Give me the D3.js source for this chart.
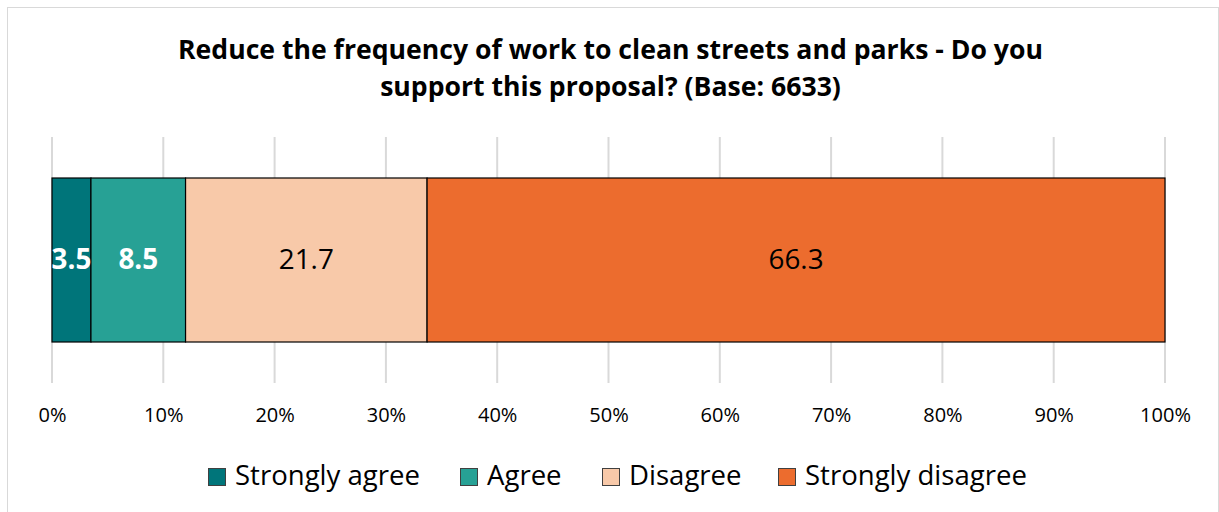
<!DOCTYPE html>
<html><head><meta charset="utf-8">
<script src="https://cdn.jsdelivr.net/npm/d3@7"></script>
<style>body{margin:0;background:#fff}svg{display:block}</style>
</head><body>
<svg id="c" width="1219" height="512"></svg>
<script>
const categories = ["Strongly agree","Agree","Disagree","Strongly disagree"];
const values = [3.5, 8.5, 21.7, 66.3];
const colors = ["#00757A","#27A195","#F8C9A9","#EC6C2E"];
const labelColors = ["#fff","#fff","#000","#000"];
const labelWeights = ["bold","bold","normal","normal"];
const ticks = [0,10,20,30,40,50,60,70,80,90,100];
const titleLines = ["Reduce the frequency of work to clean streets and parks - Do you","support this proposal? (Base: 6633)"];

const font = "'Open Sans', sans-serif";
const svg = d3.select("#c");

function fit(sel, target){ // scale font-size so text width matches target
  const n = sel.node(); const fs = parseFloat(sel.style("font-size"));
  const w = n.getComputedTextLength();
  sel.style("font-size", (fs*target/w).toFixed(2)+"px");
}

svg.append("rect").attr("x",7.5).attr("y",7.5).attr("width",1211).attr("height",510)
  .attr("fill","#fff").attr("stroke","#d9d9d9");

const tl = svg.append("g").selectAll("text").data(titleLines).join("text")
  .attr("x",610.5).attr("y",(d,i)=>59+i*37).attr("text-anchor","middle")
  .style("font-family",font).style("font-weight","bold").style("font-size","24px").attr("fill","#000")
  .text(d=>d);
fit(d3.select(tl.nodes()[0]), 865);
d3.select(tl.nodes()[1]).style("font-size", d3.select(tl.nodes()[0]).style("font-size"));

const x = d3.scaleLinear().domain([0,100]).range([52,1165]);

// gridlines
svg.append("g").selectAll("line").data(ticks).join("line")
  .attr("x1",d=>x(d)).attr("x2",d=>x(d)).attr("y1",137).attr("y2",383)
  .attr("stroke","#d9d9d9").attr("stroke-width",2);

let cum = 0;
const segs = values.map((v,i)=>{const s={i,v,x0:cum,x1:cum+v};cum+=v;return s;});
const g = svg.append("g");
g.selectAll("rect").data(segs).join("rect")
  .attr("x",d=>x(d.x0)).attr("width",d=>x(d.x1)-x(d.x0))
  .attr("y",178).attr("height",164)
  .attr("fill",d=>colors[d.i]).attr("stroke","#000").attr("stroke-width",1.2);
const lt = g.selectAll("text").data(segs).join("text")
  .attr("x",d=>(x(d.x0)+x(d.x1))/2).attr("y",269).attr("text-anchor","middle")
  .style("font-family",font).style("font-size","24px").style("font-weight",d=>labelWeights[d.i])
  .attr("fill",d=>labelColors[d.i]).text(d=>d.v.toFixed(1));
fit(d3.select(lt.nodes()[3]), 55);
const lfs = d3.select(lt.nodes()[3]).style("font-size");
lt.style("font-size", lfs);

// axis
const axis = d3.axisBottom(x).tickValues(ticks).tickFormat(d=>d+"%").tickSize(0).tickPadding(0);
const ag = svg.append("g").attr("transform","translate(0,422)").call(axis);
ag.select(".domain").remove();
const at = ag.selectAll("text").style("font-family",font).style("font-size","16px").attr("fill","#000").attr("dy",0).attr("y",0);
fit(d3.select(at.nodes()[0]), 28);
at.style("font-size", d3.select(at.nodes()[0]).style("font-size"));

// legend
const legX = [208, 460, 602, 778];
const lg = svg.append("g").selectAll("g").data(categories).join("g")
  .attr("transform",(d,i)=>`translate(${legX[i]},0)`);
lg.append("rect").attr("x",0.5).attr("y",468.5).attr("width",17).attr("height",17)
  .attr("fill",(d,i)=>colors[i]).attr("stroke","#404040").attr("stroke-width",1);
const legT = lg.append("text").attr("x",27).attr("y",485)
  .style("font-family",font).style("font-size","24px").attr("fill","#000").text(d=>d);
fit(d3.select(legT.nodes()[0]), 185);
legT.style("font-size", d3.select(legT.nodes()[0]).style("font-size"));
</script>
</body></html>
